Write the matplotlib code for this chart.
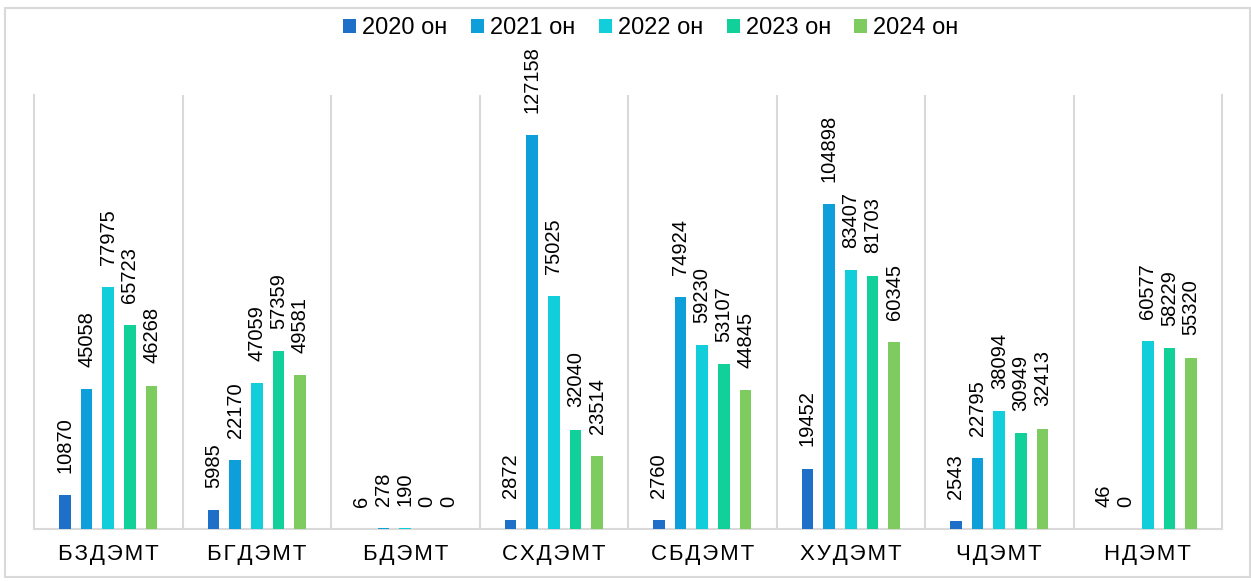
import numpy as np
import matplotlib
matplotlib.use("Agg")
import matplotlib.pyplot as plt
from matplotlib.patches import Rectangle

plt.rcParams['font.family'] = ['Liberation Sans', 'DejaVu Sans']

# Data
categories = ["БЗДЭМТ", "БГДЭМТ", "БДЭМТ", "СХДЭМТ", "СБДЭМТ", "ХУДЭМТ", "ЧДЭМТ", "НДЭМТ"]
years = ["2020 он", "2021 он", "2022 он", "2023 он", "2024 он"]
v2020 = [10870, 5985, 6, 2872, 2760, 19452, 2543, 46]
v2021 = [45058, 22170, 278, 127158, 74924, 104898, 22795, 0]
v2022 = [77975, 47059, 190, 75025, 59230, 83407, 38094, 60577]
v2023 = [65723, 57359, 0, 32040, 53107, 81703, 30949, 58229]
v2024 = [46268, 49581, 0, 23514, 44845, 60345, 32413, 55320]
series = [v2020, v2021, v2022, v2023, v2024]
colors = ["#1E6FC8", "#0E9FDB", "#12CEDA", "#12D09A", "#7ECB5F"]

fig = plt.figure(figsize=(12.51, 5.81), dpi=100)
ax = fig.add_axes([34 / 1251, 1 - 529 / 581, (1222 - 34) / 1251, (529 - 95) / 581])

# outer frame
fig.patches.append(Rectangle((5 / 1251, 4 / 581), 1245 / 1251, 569 / 581,
                             transform=fig.transFigure, fill=False,
                             edgecolor="#D9D9D9", linewidth=1.5))

x = np.arange(len(categories))
slot = 0.146
width = 0.079
for i, (vals, col, lab) in enumerate(zip(series, colors, years)):
    pos = x + (i - 2) * slot
    ax.bar(pos, vals, width=width, color=col, label=lab, zorder=3)
    for p, v in zip(pos, vals):
        ax.annotate(str(v), (p, v), xytext=(0, 16), textcoords="offset points",
                    rotation=90, ha="center", va="bottom", fontsize=14.5)

ax.set_xlim(-0.5, len(categories) - 0.5)
ax.set_ylim(0, 140000)
for b in np.arange(0.5, len(categories) - 0.5):
    ax.axvline(b, color="#D9D9D9", linewidth=1.5, zorder=1)

ax.set_yticks([])
ax.set_xticks(x)
ax.set_xticklabels(["\u200a".join(c) for c in categories], fontsize=16)
ax.tick_params(axis="x", length=0, pad=11)
for s in ["left", "right", "bottom"]:
    ax.spines[s].set_color("#D9D9D9")
    ax.spines[s].set_linewidth(1.5)
ax.spines["top"].set_visible(False)

fig.legend(loc="center", bbox_to_anchor=(651 / 1251, 1 - 28 / 581), ncol=5,
           frameon=False, fontsize=17, handlelength=0.55, handleheight=0.55,
           handletextpad=0.25, columnspacing=1.0)

fig.savefig("out.png", dpi=100)
